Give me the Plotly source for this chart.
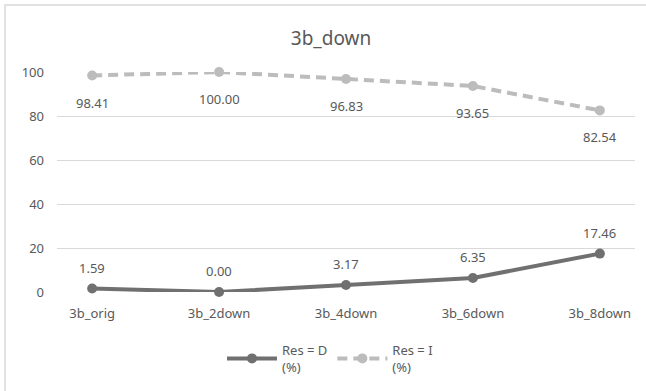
import plotly.graph_objects as go

# Categories and the two result series (percent)
categories = ["3b_orig", "3b_2down", "3b_4down", "3b_6down", "3b_8down"]
res_d = [1.59, 0.00, 3.17, 6.35, 17.46]
res_i = [98.41, 100.00, 96.83, 93.65, 82.54]
y_ticks = [0, 20, 40, 60, 80, 100]

FONT = "Noto Sans"
TEXT = "#595959"
GRID = "#d9d9d9"
DARK = "#707070"
LIGHT = "#bcbcbc"

W, H = 646, 391
ML, MR, MT, MB = 57, 11, 72, 99
plot_w = W - ML - MR
plot_h = H - MT - MB

fig = go.Figure()
fig.add_trace(go.Scatter(
    x=categories, y=res_d, mode="lines+markers", name="Res = D<br>(%)",
    line=dict(color=DARK, width=4),
    marker=dict(color=DARK, size=10),
    cliponaxis=False,
))
fig.add_trace(go.Scatter(
    x=categories, y=res_i, mode="lines+markers", name="Res = I<br>(%)",
    line=dict(color=LIGHT, width=4, dash="10px,6px"),
    marker=dict(color=LIGHT, size=10),
    cliponaxis=False,
))

# value labels: D above its points, I below its points
for c, v in zip(categories, res_d):
    fig.add_annotation(x=c, y=v, text=f"{v:.2f}", showarrow=False, yshift=21,
                       font=dict(family=FONT, size=13, color=TEXT))
for c, v in zip(categories, res_i):
    fig.add_annotation(x=c, y=v, text=f"{v:.2f}", showarrow=False, yshift=-27,
                       font=dict(family=FONT, size=13, color=TEXT))

# chart-area border
def px_x(p):
    return (p - ML) / plot_w

def px_y(p):
    return (H - MB - p) / plot_h

fig.add_shape(type="rect", xref="paper", yref="paper",
              x0=px_x(5), x1=px_x(660), y0=px_y(400), y1=px_y(5),
              line=dict(color=GRID, width=1.5), fillcolor="rgba(0,0,0,0)", layer="below")

fig.update_layout(
    width=W, height=H,
    margin=dict(l=ML, r=MR, t=MT, b=MB, autoexpand=False),
    paper_bgcolor="white", plot_bgcolor="white",
    font=dict(family=FONT, size=13, color=TEXT),
    title=dict(text="3b_down", x=331 / W, xanchor="center", y=1 - 38 / H, yanchor="middle",
               font=dict(family=FONT, size=19, color=TEXT)),
    showlegend=True,
    legend=dict(orientation="h", x=px_x(330), xanchor="center", y=px_y(335), yanchor="top",
                font=dict(family=FONT, size=13, color=TEXT), itemwidth=50,
                bgcolor="rgba(0,0,0,0)"),
    xaxis=dict(type="category", showgrid=False, zeroline=False, showline=False,
               ticks="", ticklabelstandoff=12, automargin=False,
               tickfont=dict(family=FONT, size=13, color=TEXT)),
    yaxis=dict(range=[0, 100], tickvals=y_ticks, showgrid=True, gridcolor=GRID, gridwidth=1,
               zeroline=False, showline=False, ticks="", ticklabelstandoff=12, automargin=False,
               tickfont=dict(family=FONT, size=13, color=TEXT)),
)

fig.write_html("out.html")
